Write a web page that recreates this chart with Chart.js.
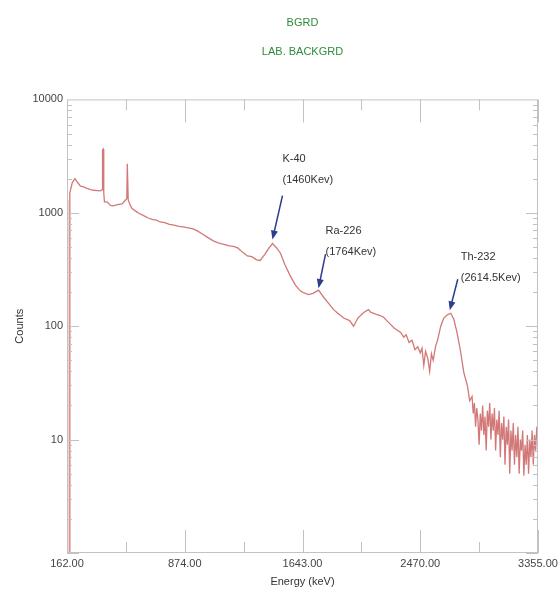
<!DOCTYPE html>
<html>
<head>
<meta charset="utf-8">
<script src="https://cdn.jsdelivr.net/npm/chart.js@4.4.1/dist/chart.umd.min.js"></script>
<style>
  html, body { margin: 0; padding: 0; background: #fff; }
  #wrap { width: 558px; height: 593px; }
</style>
</head>
<body>
<div id="wrap"><canvas id="spectrum" width="558" height="593"></canvas></div>
<script>
// spectrum: x in channels (1000 per labelled tick), y in counts
const channels = [
  0, 3, 8, 20, 24, 45, 68, 90, 115, 136, 170, 200, 230, 260, 285, 298, 302, 308, 312, 318,
  340, 370, 391, 430, 468, 495, 508, 512, 516, 520, 540, 553, 580, 610, 647, 690, 730, 760, 791, 830,
  870, 910, 950, 987, 1030, 1072, 1110, 1150, 1190, 1242, 1290, 1340, 1380, 1413, 1450, 1490, 1532, 1570, 1610, 1640,
  1680, 1710, 1745, 1780, 1813, 1850, 1898, 1940, 1980, 2008, 2050, 2090, 2136, 2180, 2220, 2264, 2300, 2350, 2400, 2434,
  2470, 2520, 2560, 2579, 2620, 2660, 2689, 2730, 2780, 2834, 2860, 2880, 2905, 2930, 2955, 2979, 3000, 3015, 3030, 3045,
  3064, 3080, 3095, 3110, 3130, 3149, 3174, 3200, 3230, 3259, 3285, 3310, 3340, 3370, 3400, 3420, 3440, 3450, 3460, 3470,
  3480, 3490, 3500, 3510, 3520, 3530, 3540, 3550, 3560, 3570, 3580, 3590, 3600, 3610, 3620, 3630, 3640, 3650, 3660, 3670,
  3680, 3690, 3700, 3710, 3720, 3730, 3740, 3750, 3760, 3770, 3780, 3790, 3800, 3810, 3820, 3830, 3840, 3850, 3860, 3870,
  3880, 3890, 3900, 3910, 3920, 3930, 3940, 3950, 3960, 3970, 3980, 3990, 4000
];
const counts = [
  1, 1300, 1, 1, 1500, 1850, 2000, 1850, 1720, 1700, 1640, 1600, 1580, 1570, 1560, 1600, 3600, 3650, 1500, 1250,
  1250, 1160, 1150, 1180, 1200, 1290, 1330, 2700, 2700, 1300, 1150, 1090, 1040, 990, 950, 900, 870, 860, 830, 820,
  790, 780, 760, 750, 735, 720, 690, 650, 610, 565, 540, 525, 510, 505, 490, 450, 416, 410, 385, 380,
  430, 480, 535, 490, 440, 350, 275, 230, 205, 198, 190, 195, 208, 180, 160, 140, 130, 118, 112, 100,
  118, 132, 140, 133, 128, 124, 120, 108, 96, 88, 80, 84, 72, 75, 62, 66, 58, 64, 45, 60,
  52, 40, 57, 50, 66, 77, 100, 118, 126, 130, 115, 90, 62, 39, 30, 22, 24, 17, 21, 13,
  19, 15, 9, 17, 12, 20, 11, 16, 8, 18, 13, 21, 10, 17, 12, 19, 8, 15, 11, 18,
  7, 14, 10, 16, 6, 13, 9, 15, 5, 12, 8, 14, 6, 11, 7, 13, 5, 10, 8, 12,
  4.8, 9, 6, 11, 5, 10, 7, 12, 6, 11, 8, 13, 10
];
const energyTicks = ["162.00", "874.00", "1643.00", "2470.00", "3355.00"];
const countTicks = [10, 100, 1000, 10000];

const peakNames = ["K-40", "Ra-226", "Th-232"];
const peakEnergies = ["(1460Kev)", "(1764Kev)", "(2614.5Kev)"];
const peakChannels = [1745, 2136, 3259];
const peakCounts = [535, 208, 130];

const labelFont = '11px "Liberation Sans", Arial, sans-serif';

// frame with inward ticks on all four sides
const frameTicks = {
  id: 'frameTicks',
  afterDatasetsDraw(chart) {
    const {ctx, chartArea: a, scales: {x, y}} = chart;
    ctx.save();
    ctx.strokeStyle = '#c2c2c2';
    ctx.lineWidth = 1;
    ctx.strokeRect(a.left + 0.5, a.top + 0.5, a.right - a.left - 1, a.bottom - a.top - 1);
    ctx.beginPath();
    for (let c = 0; c <= 4000; c += 500) {
      const px = Math.round(x.getPixelForValue(c)) + 0.5;
      const len = c % 1000 === 0 ? 23 : 11;
      ctx.moveTo(px, a.bottom); ctx.lineTo(px, a.bottom - len);
      ctx.moveTo(px, a.top); ctx.lineTo(px, a.top + len);
    }
    for (let d = 1; d < 10000; d *= 10) {
      for (let m = 1; m <= 9; m++) {
        const py = Math.round(y.getPixelForValue(d * m)) + 0.5;
        const len = m === 1 ? 12 : 5;
        ctx.moveTo(a.left, py); ctx.lineTo(a.left + len, py);
        ctx.moveTo(a.right, py); ctx.lineTo(a.right - len, py);
      }
    }
    ctx.stroke();
    ctx.restore();
  }
};

// peak arrows and labels
const peakLabels = {
  id: 'peakLabels',
  afterDatasetsDraw(chart, args, opts) {
    const {ctx, scales: {x, y}} = chart;
    ctx.save();
    ctx.font = labelFont;
    ctx.textBaseline = 'middle';
    ctx.textAlign = 'left';
    peakNames.forEach((name, i) => {
      const px = x.getPixelForValue(peakChannels[i]);
      const py = y.getPixelForValue(peakCounts[i]);
      const o = opts.offsets[i];
      const sx = px + o.tail[0], sy = py + o.tail[1];
      const ex = px + o.tip[0], ey = py + o.tip[1];
      const ang = Math.atan2(ey - sy, ex - sx);
      ctx.strokeStyle = '#2c3d8c';
      ctx.fillStyle = '#2c3d8c';
      ctx.lineWidth = 1.5;
      ctx.beginPath();
      ctx.moveTo(sx, sy);
      ctx.lineTo(ex - 6 * Math.cos(ang), ey - 6 * Math.sin(ang));
      ctx.stroke();
      ctx.beginPath();
      ctx.moveTo(ex, ey);
      ctx.lineTo(ex - 9 * Math.cos(ang) + 3.5 * Math.sin(ang), ey - 9 * Math.sin(ang) - 3.5 * Math.cos(ang));
      ctx.lineTo(ex - 9 * Math.cos(ang) - 3.5 * Math.sin(ang), ey - 9 * Math.sin(ang) + 3.5 * Math.cos(ang));
      ctx.closePath();
      ctx.fill();
      ctx.fillStyle = '#333';
      ctx.fillText(name, px + o.text[0], py + o.text[1]);
      ctx.fillText(peakEnergies[i], px + o.text[0], py + o.text[1] + 21);
    });
    ctx.restore();
  }
};

new Chart(document.getElementById('spectrum'), {
  type: 'line',
  data: {
    datasets: [{
      label: 'BGRD',
      data: channels.map((c, i) => ({x: c, y: counts[i]})),
      borderColor: 'rgba(205, 105, 105, 0.9)',
      borderWidth: 1.3,
      pointRadius: 0,
      tension: 0,
      fill: false,
    }],
  },
  options: {
    responsive: false,
    animation: false,
    devicePixelRatio: 1,
    layout: { padding: { left: 0, right: 20, top: 0, bottom: 0 } },
    scales: {
      x: {
        type: 'linear',
        min: 0,
        max: 4000,
        grid: { display: false, drawTicks: false },
        border: { display: false },
        afterBuildTicks: (s) => { s.ticks = energyTicks.map((t, i) => ({value: i * 1000})); },
        ticks: {
          padding: 4,
          maxRotation: 0,
          color: '#444',
          font: { family: '"Liberation Sans", Arial, sans-serif', size: 11 },
          callback: (v) => energyTicks[Math.round(v / 1000)],
        },
        title: {
          display: true,
          text: 'Energy (keV)',
          color: '#333',
          font: { family: '"Liberation Sans", Arial, sans-serif', size: 11 },
          padding: { top: 0, bottom: 4 },
        },
        afterFit: (s) => { s.height = 40; s.paddingRight = 0; s.paddingLeft = 0; },
      },
      y: {
        type: 'logarithmic',
        min: 1,
        max: 10000,
        grid: { display: false, drawTicks: false },
        border: { display: false },
        afterBuildTicks: (s) => { s.ticks = countTicks.map((v) => ({value: v})); },
        ticks: {
          padding: 4,
          color: '#444',
          font: { family: '"Liberation Sans", Arial, sans-serif', size: 11 },
          callback: (v) => String(v),
        },
        title: {
          display: true,
          text: 'Counts',
          color: '#333',
          font: { family: '"Liberation Sans", Arial, sans-serif', size: 11 },
          padding: { top: 13, bottom: 0 },
        },
        afterFit: (s) => { s.width = 67; },
      },
    },
    plugins: {
      legend: { display: false },
      tooltip: { enabled: false },
      title: {
        display: true,
        text: 'BGRD',
        fullSize: false,
        color: '#2e8b3a',
        font: { family: '"Liberation Sans", Arial, sans-serif', size: 11, weight: 'normal' },
        padding: { top: 16, bottom: 16 },
      },
      subtitle: {
        display: true,
        text: 'LAB. BACKGRD',
        fullSize: false,
        color: '#2e8b3a',
        font: { family: '"Liberation Sans", Arial, sans-serif', size: 11 },
        padding: { top: 0, bottom: 41 },
      },
      peakLabels: {
        offsets: [
          { text: [10, -85], tail: [10, -48], tip: [0, -4] },
          { text: [7, -59], tail: [7, -36], tip: [0, -2] },
          { text: [10, -56], tail: [7, -34], tip: [-1, -3] },
        ],
      },
    },
  },
  plugins: [frameTicks, peakLabels],
});
</script>
</body>
</html>
